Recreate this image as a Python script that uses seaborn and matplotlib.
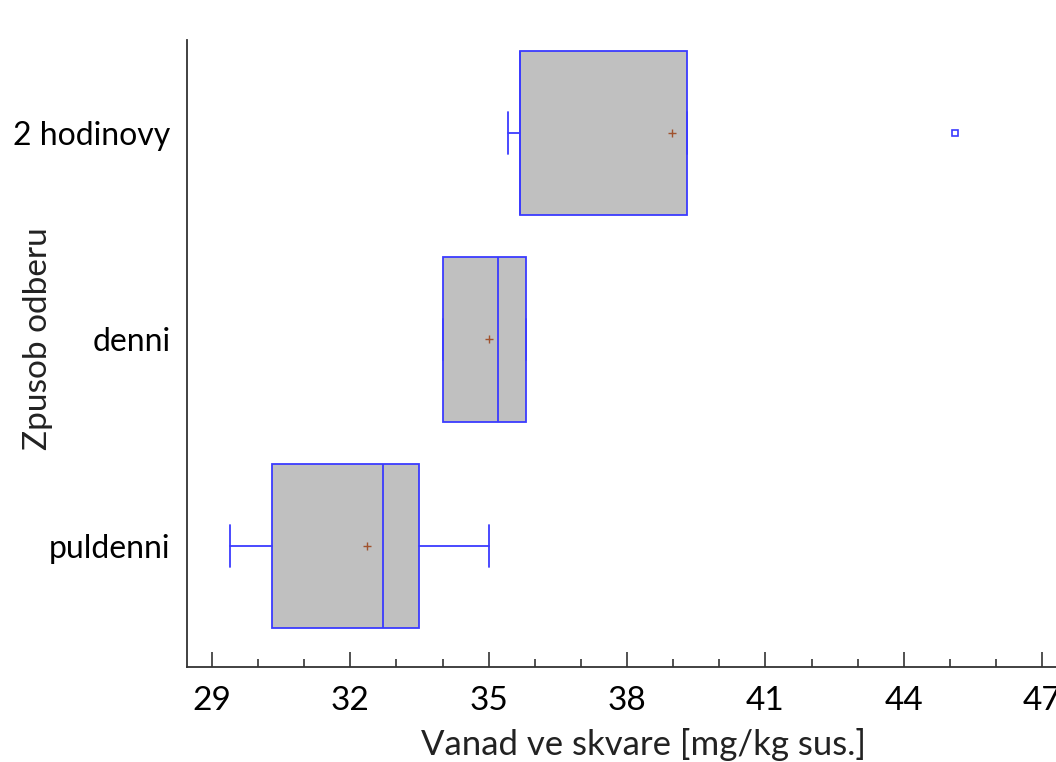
import matplotlib
matplotlib.use("Agg")
import matplotlib.pyplot as plt
import seaborn as sns
import pandas as pd
from matplotlib.ticker import MultipleLocator

# summary statistics
groups = ["2 hodinovy", "denni", "puldenni"]
whisker_low = [35.41, 34.00, 29.40]
q1 = [35.69, 34.00, 30.31]
median = [35.69, 35.21, 32.70]
q3 = [39.29, 35.82, 33.49]
whisker_high = [39.29, 35.82, 35.00]
means = [38.98, 35.00, 32.36]
outliers = [[45.12], [], []]

x_ticks = [29, 32, 35, 38, 41, 44, 47]

sns.set_theme(style="ticks")
plt.rcParams["font.family"] = ["Lato", "DejaVu Sans"]

fig = plt.figure(figsize=(10.56, 7.62), dpi=100)
ax = fig.add_axes([187 / 1056, 1 - 667 / 762, (1056 - 187) / 1056, (667 - 40) / 762])

stats = []
for i, g in enumerate(groups):
    stats.append({
        "label": g,
        "whislo": whisker_low[i],
        "q1": q1[i],
        "med": median[i],
        "q3": q3[i],
        "whishi": whisker_high[i],
        "fliers": outliers[i],
    })

blue = "#3b3bff"
ax.bxp(
    stats,
    positions=range(len(groups)),
    orientation="horizontal",
    widths=0.795,
    patch_artist=True,
    showfliers=True,
    boxprops=dict(facecolor="#c0c0c0", edgecolor=blue, linewidth=1.3),
    medianprops=dict(color=blue, linewidth=1.3),
    whiskerprops=dict(color=blue, linewidth=1.3),
    capprops=dict(color=blue, linewidth=1.3),
    capwidths=0.2,
    flierprops=dict(marker="s", markersize=5, markerfacecolor="white",
                    markeredgecolor=blue, markeredgewidth=1.2),
)

# means drawn as small crosses
mean_df = pd.DataFrame({"group": groups, "mean": means, "pos": range(len(groups))})
sns.scatterplot(data=mean_df, x="mean", y="pos", marker="+", s=36,
                color="#a0522d", linewidth=1.0, ax=ax, zorder=5)

ax.set_xlim(28.46, 47.3)
ax.set_ylim(2.586, -0.45)
ax.set_yticks(range(len(groups)))
ax.set_yticklabels(groups)
ax.set_xticks(x_ticks)
ax.xaxis.set_minor_locator(MultipleLocator(1))
ax.tick_params(axis="x", which="major", direction="in", length=11, width=1.2,
               labelsize=24, pad=14, colors="#333333", labelcolor="black")
ax.tick_params(axis="x", which="minor", direction="in", length=6, width=1.2,
               colors="#333333")
ax.tick_params(axis="y", length=0, labelsize=23, pad=12, labelcolor="black")

ax.set_xlabel("Vanad ve skvare [mg/kg sus.]", fontsize=25, color="#222222")
ax.set_ylabel("Zpusob odberu", fontsize=24, color="#222222")
ax.xaxis.set_label_coords(0.525, -0.098)
ax.yaxis.set_label_coords(-0.154, 0.523)

sns.despine(ax=ax)
for side in ["left", "bottom"]:
    ax.spines[side].set_color("#333333")
    ax.spines[side].set_linewidth(1.3)

fig.savefig("out.png", dpi=100)
